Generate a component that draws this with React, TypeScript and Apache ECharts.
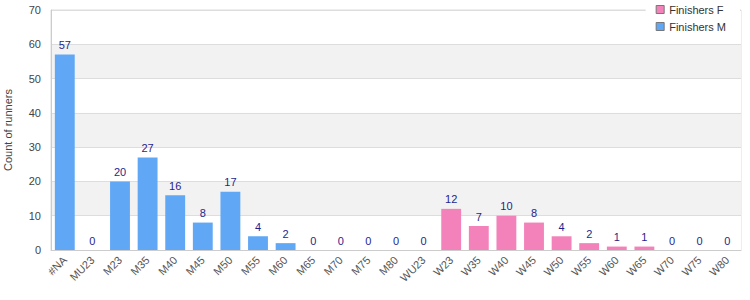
import React, { useEffect, useRef } from "react";
import * as echarts from "echarts";

const categories = ["#NA","MU23","M23","M35","M40","M45","M50","M55","M60","M65","M70","M75","M80","WU23","W23","W35","W40","W45","W50","W55","W60","W65","W70","W75","W80"];
const finishersM: (number | string)[] = [57,0,20,27,16,8,17,4,2,0,0,0,0,"-","-","-","-","-","-","-","-","-","-","-","-"];
const finishersF: (number | string)[] = ["-","-","-","-","-","-","-","-","-","-","-","-","-",0,12,7,10,8,4,2,1,1,0,0,0];
const yTicks = { min: 0, max: 70, interval: 10 };

export default function App() {
  const ref = useRef<HTMLDivElement>(null);
  useEffect(() => {
    const chart = echarts.init(ref.current!, null, { renderer: "svg" });
    const font = "Liberation Sans";
    const label = { show: true, position: "top", color: "#1f1f8c", fontSize: 11, fontFamily: font, distance: 4 };
    chart.setOption({
      animation: false,
      textStyle: { fontFamily: font },
      grid: { left: 51, right: 9, top: 10, bottom: 50, containLabel: false, outerBoundsMode: "none", show: true, borderColor: "#dddddd", borderWidth: 1 },
      legend: {
        right: 10, top: 0, orient: "vertical", itemWidth: 8, itemHeight: 8, itemGap: 6, icon: "rect",
        backgroundColor: "#ffffff", padding: [4, 14, 3, 10],
        textStyle: { fontSize: 11, color: "#333", fontFamily: font },
        data: [
          { name: "Finishers F", itemStyle: { borderColor: "#777", borderWidth: 1 } },
          { name: "Finishers M", itemStyle: { borderColor: "#777", borderWidth: 1 } },
        ],
      },
      xAxis: {
        type: "category", data: categories,
        axisLine: { lineStyle: { color: "#cccccc" } },
        axisTick: { show: false },
        axisLabel: { rotate: 45, color: "#555", fontSize: 11, fontFamily: font, interval: 0, margin: 8 },
      },
      yAxis: {
        type: "value", min: yTicks.min, max: yTicks.max, interval: yTicks.interval,
        name: "Count of runners", nameLocation: "middle", nameGap: 38,
        nameTextStyle: { color: "#444", fontSize: 11, fontFamily: font },
        axisLine: { show: true, lineStyle: { color: "#cccccc" } },
        axisTick: { show: false },
        axisLabel: { color: "#444", fontSize: 11, fontFamily: font, margin: 10 },
        splitLine: { lineStyle: { color: "#dddddd" } },
        splitArea: { show: true, areaStyle: { color: ["#ffffff", "#f2f2f2"] } },
      },
      series: [
        { name: "Finishers M", type: "bar", stack: "a", data: finishersM, barWidth: "72%", itemStyle: { color: "#60a8f5" }, label },
        { name: "Finishers F", type: "bar", stack: "a", data: finishersF, barWidth: "72%", itemStyle: { color: "#f381ba" }, label },
      ],
    });
    return () => chart.dispose();
  }, []);
  return <div ref={ref} style={{ position: "absolute", left: 0, top: 0, width: 750, height: 300 }} />;
}
